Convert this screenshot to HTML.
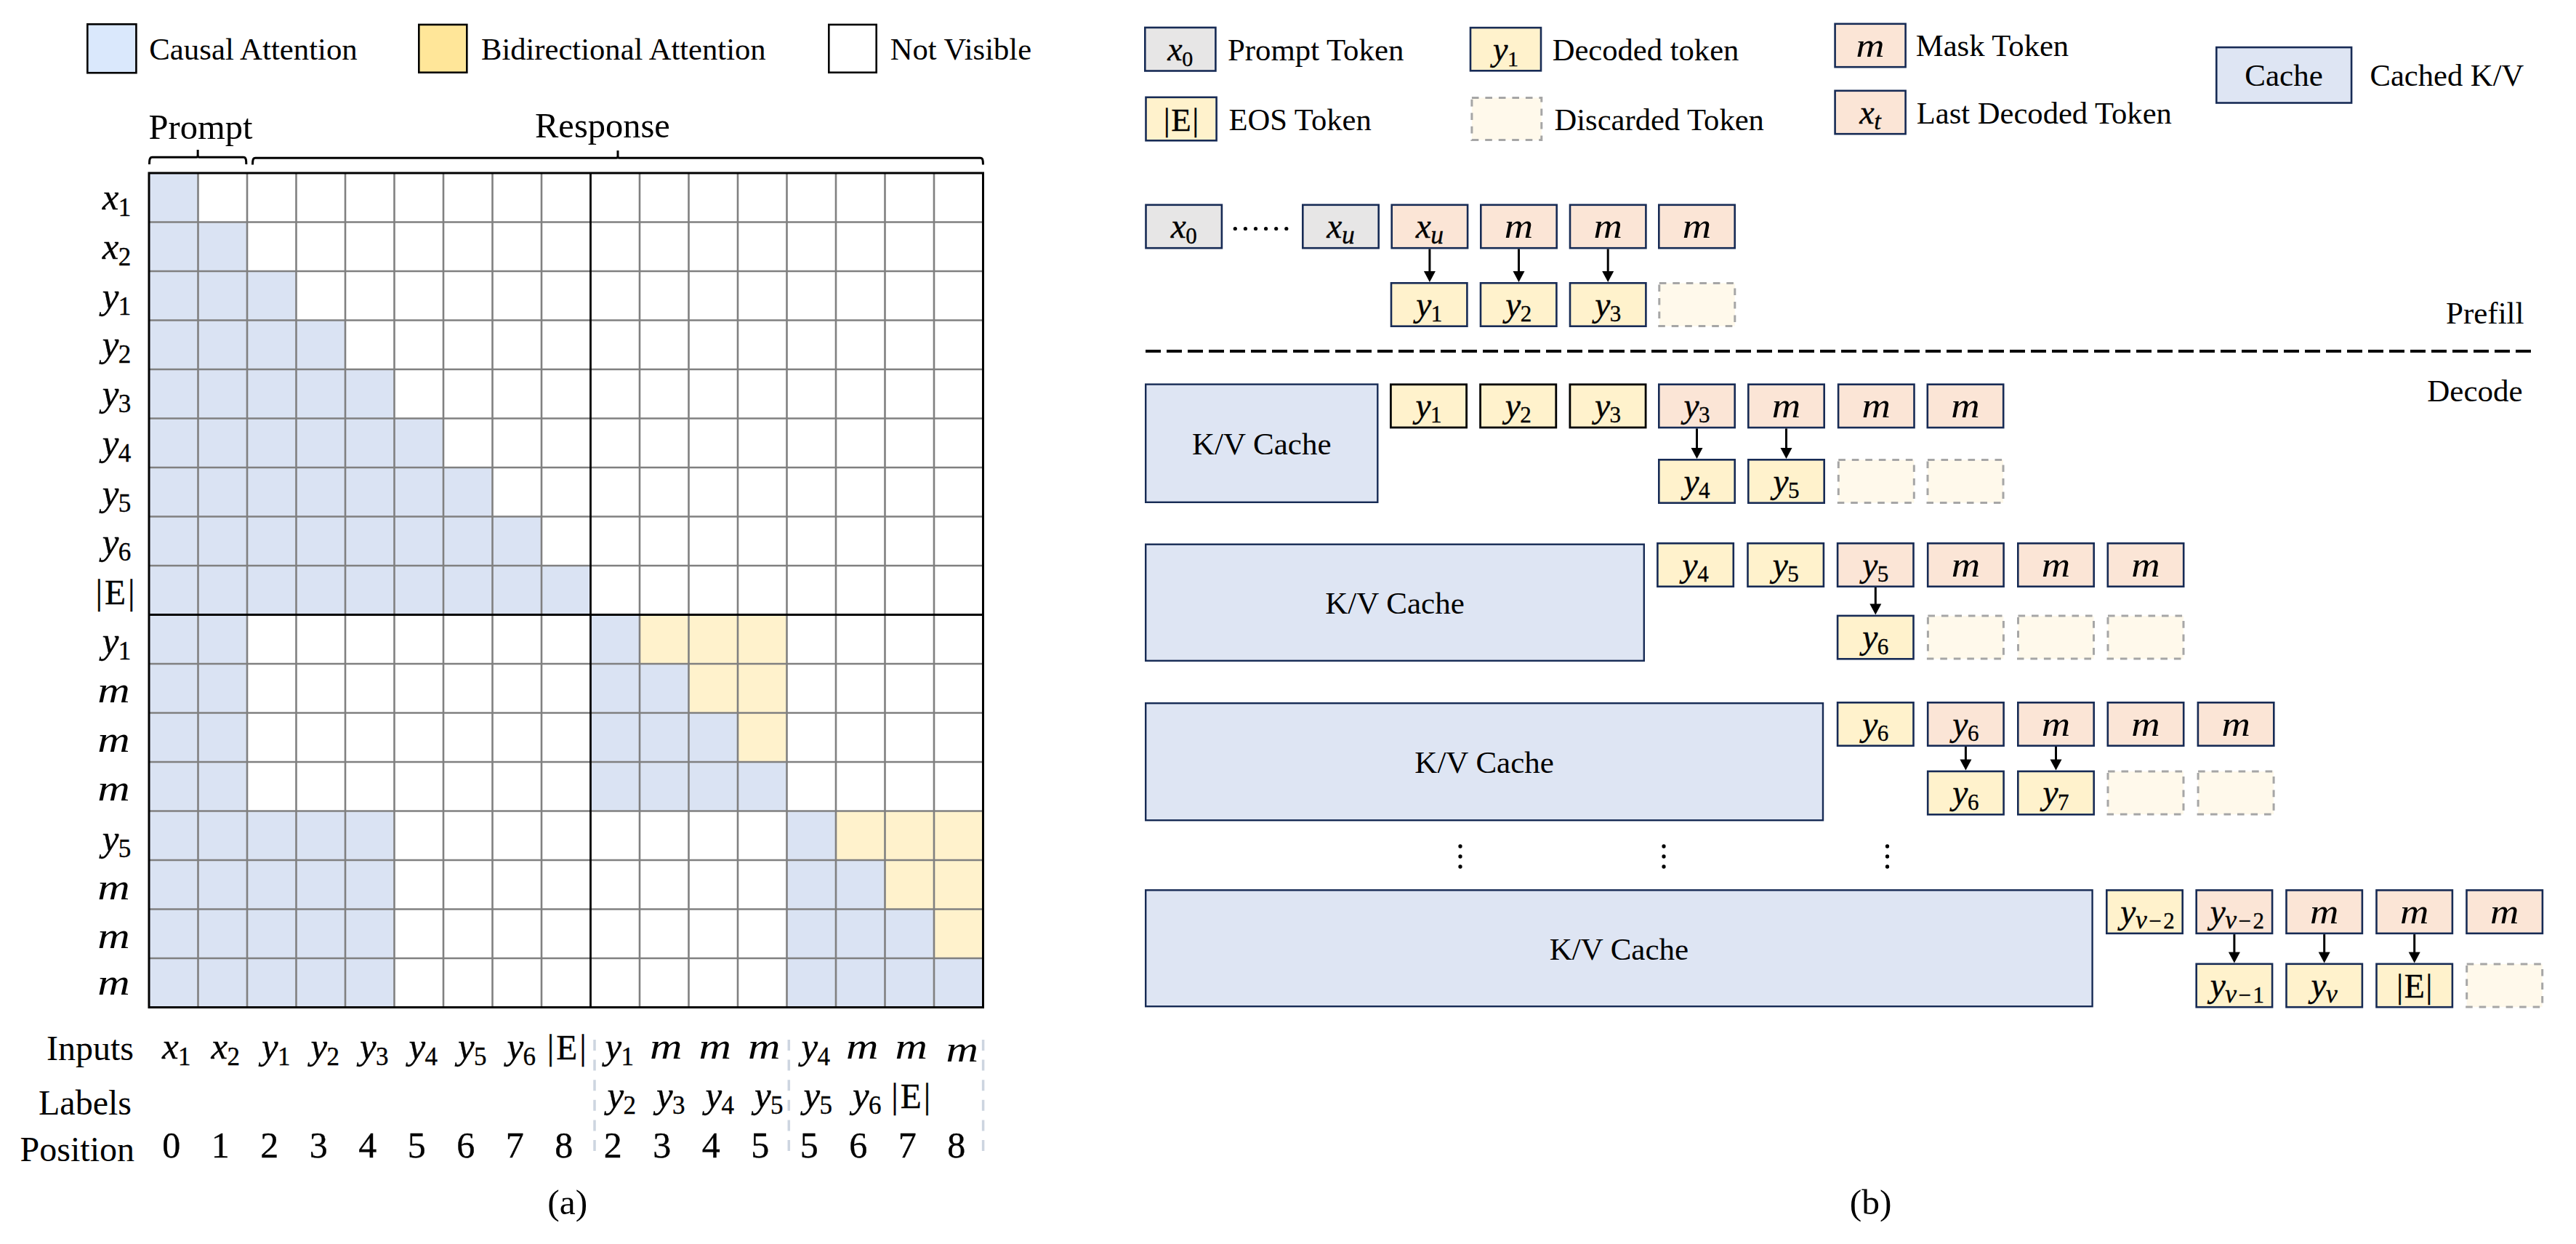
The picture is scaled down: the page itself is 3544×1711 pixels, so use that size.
<!DOCTYPE html>
<html><head><meta charset="utf-8">
<style>
html,body{margin:0;padding:0;background:#fff;}
svg{display:block;}
text{font-family:"Liberation Serif",serif;fill:#000;}
.it{font-style:italic;}
.mt{stroke:#000;stroke-width:0.35px;}
.up{font-style:normal;}
</style></head>
<body>
<svg width="3544" height="1711" viewBox="0 0 3544 1711">
<rect x="0" y="0" width="3544" height="1711" fill="#fff"/>
<rect x="120.3" y="33.3" width="67.1" height="66.9" fill="#dae8fc" stroke="#000" stroke-width="2.6"/>
<text x="205.3" y="82.1" text-anchor="start" class="up" font-size="42.8">Causal Attention</text>
<rect x="576.3" y="33.9" width="66.0" height="65.8" fill="#ffe699" stroke="#000" stroke-width="2.6"/>
<text x="662.0" y="82.1" text-anchor="start" class="up" font-size="42.6">Bidirectional Attention</text>
<rect x="1140.3" y="33.9" width="65.4" height="65.8" fill="#ffffff" stroke="#000" stroke-width="2.6"/>
<text x="1224.8" y="82.1" text-anchor="start" class="up" font-size="42.6">Not Visible</text>
<text x="204.6" y="190.9" text-anchor="start" class="up" font-size="48.5">Prompt</text>
<text x="736.0" y="189.3" text-anchor="start" class="up" font-size="48.5">Response</text>
<path d="M205.5,226 C205.5,219.3 206.0,216.3 209.5,216.3 L270.15,216.3 Q272.15,216.3 272.15,213.3 L272.15,206 M272.15,213.3 Q272.15,216.3 274.15,216.3 L334.8,216.3 C338.3,216.3 338.8,219.3 338.8,226" fill="none" stroke="#000" stroke-width="3"/>
<path d="M347.5,226.5 C347.5,220.2 348.0,217.2 351.5,217.2 L848.0,217.2 Q850.0,217.2 850.0,214.2 L850.0,206.9 M850.0,214.2 Q850.0,217.2 852.0,217.2 L1348.5,217.2 C1352.0,217.2 1352.5,220.2 1352.5,226.5" fill="none" stroke="#000" stroke-width="3"/>
<rect x="205.00" y="238.00" width="67.80" height="67.80" fill="#dae3f3"/>
<rect x="205.00" y="305.50" width="67.80" height="67.80" fill="#dae3f3"/>
<rect x="272.50" y="305.50" width="67.80" height="67.80" fill="#dae3f3"/>
<rect x="205.00" y="373.00" width="67.80" height="67.80" fill="#dae3f3"/>
<rect x="272.50" y="373.00" width="67.80" height="67.80" fill="#dae3f3"/>
<rect x="340.00" y="373.00" width="67.80" height="67.80" fill="#dae3f3"/>
<rect x="205.00" y="440.50" width="67.80" height="67.80" fill="#dae3f3"/>
<rect x="272.50" y="440.50" width="67.80" height="67.80" fill="#dae3f3"/>
<rect x="340.00" y="440.50" width="67.80" height="67.80" fill="#dae3f3"/>
<rect x="407.50" y="440.50" width="67.80" height="67.80" fill="#dae3f3"/>
<rect x="205.00" y="508.00" width="67.80" height="67.80" fill="#dae3f3"/>
<rect x="272.50" y="508.00" width="67.80" height="67.80" fill="#dae3f3"/>
<rect x="340.00" y="508.00" width="67.80" height="67.80" fill="#dae3f3"/>
<rect x="407.50" y="508.00" width="67.80" height="67.80" fill="#dae3f3"/>
<rect x="475.00" y="508.00" width="67.80" height="67.80" fill="#dae3f3"/>
<rect x="205.00" y="575.50" width="67.80" height="67.80" fill="#dae3f3"/>
<rect x="272.50" y="575.50" width="67.80" height="67.80" fill="#dae3f3"/>
<rect x="340.00" y="575.50" width="67.80" height="67.80" fill="#dae3f3"/>
<rect x="407.50" y="575.50" width="67.80" height="67.80" fill="#dae3f3"/>
<rect x="475.00" y="575.50" width="67.80" height="67.80" fill="#dae3f3"/>
<rect x="542.50" y="575.50" width="67.80" height="67.80" fill="#dae3f3"/>
<rect x="205.00" y="643.00" width="67.80" height="67.80" fill="#dae3f3"/>
<rect x="272.50" y="643.00" width="67.80" height="67.80" fill="#dae3f3"/>
<rect x="340.00" y="643.00" width="67.80" height="67.80" fill="#dae3f3"/>
<rect x="407.50" y="643.00" width="67.80" height="67.80" fill="#dae3f3"/>
<rect x="475.00" y="643.00" width="67.80" height="67.80" fill="#dae3f3"/>
<rect x="542.50" y="643.00" width="67.80" height="67.80" fill="#dae3f3"/>
<rect x="610.00" y="643.00" width="67.80" height="67.80" fill="#dae3f3"/>
<rect x="205.00" y="710.50" width="67.80" height="67.80" fill="#dae3f3"/>
<rect x="272.50" y="710.50" width="67.80" height="67.80" fill="#dae3f3"/>
<rect x="340.00" y="710.50" width="67.80" height="67.80" fill="#dae3f3"/>
<rect x="407.50" y="710.50" width="67.80" height="67.80" fill="#dae3f3"/>
<rect x="475.00" y="710.50" width="67.80" height="67.80" fill="#dae3f3"/>
<rect x="542.50" y="710.50" width="67.80" height="67.80" fill="#dae3f3"/>
<rect x="610.00" y="710.50" width="67.80" height="67.80" fill="#dae3f3"/>
<rect x="677.50" y="710.50" width="67.80" height="67.80" fill="#dae3f3"/>
<rect x="205.00" y="778.00" width="67.80" height="67.80" fill="#dae3f3"/>
<rect x="272.50" y="778.00" width="67.80" height="67.80" fill="#dae3f3"/>
<rect x="340.00" y="778.00" width="67.80" height="67.80" fill="#dae3f3"/>
<rect x="407.50" y="778.00" width="67.80" height="67.80" fill="#dae3f3"/>
<rect x="475.00" y="778.00" width="67.80" height="67.80" fill="#dae3f3"/>
<rect x="542.50" y="778.00" width="67.80" height="67.80" fill="#dae3f3"/>
<rect x="610.00" y="778.00" width="67.80" height="67.80" fill="#dae3f3"/>
<rect x="677.50" y="778.00" width="67.80" height="67.80" fill="#dae3f3"/>
<rect x="745.00" y="778.00" width="67.80" height="67.80" fill="#dae3f3"/>
<rect x="205.00" y="845.50" width="67.80" height="67.80" fill="#dae3f3"/>
<rect x="272.50" y="845.50" width="67.80" height="67.80" fill="#dae3f3"/>
<rect x="812.50" y="845.50" width="67.80" height="67.80" fill="#dae3f3"/>
<rect x="205.00" y="913.00" width="67.80" height="67.80" fill="#dae3f3"/>
<rect x="272.50" y="913.00" width="67.80" height="67.80" fill="#dae3f3"/>
<rect x="812.50" y="913.00" width="67.80" height="67.80" fill="#dae3f3"/>
<rect x="880.00" y="913.00" width="67.80" height="67.80" fill="#dae3f3"/>
<rect x="205.00" y="980.50" width="67.80" height="67.80" fill="#dae3f3"/>
<rect x="272.50" y="980.50" width="67.80" height="67.80" fill="#dae3f3"/>
<rect x="812.50" y="980.50" width="67.80" height="67.80" fill="#dae3f3"/>
<rect x="880.00" y="980.50" width="67.80" height="67.80" fill="#dae3f3"/>
<rect x="947.50" y="980.50" width="67.80" height="67.80" fill="#dae3f3"/>
<rect x="205.00" y="1048.00" width="67.80" height="67.80" fill="#dae3f3"/>
<rect x="272.50" y="1048.00" width="67.80" height="67.80" fill="#dae3f3"/>
<rect x="812.50" y="1048.00" width="67.80" height="67.80" fill="#dae3f3"/>
<rect x="880.00" y="1048.00" width="67.80" height="67.80" fill="#dae3f3"/>
<rect x="947.50" y="1048.00" width="67.80" height="67.80" fill="#dae3f3"/>
<rect x="1015.00" y="1048.00" width="67.80" height="67.80" fill="#dae3f3"/>
<rect x="205.00" y="1115.50" width="67.80" height="67.80" fill="#dae3f3"/>
<rect x="272.50" y="1115.50" width="67.80" height="67.80" fill="#dae3f3"/>
<rect x="340.00" y="1115.50" width="67.80" height="67.80" fill="#dae3f3"/>
<rect x="407.50" y="1115.50" width="67.80" height="67.80" fill="#dae3f3"/>
<rect x="475.00" y="1115.50" width="67.80" height="67.80" fill="#dae3f3"/>
<rect x="1082.50" y="1115.50" width="67.80" height="67.80" fill="#dae3f3"/>
<rect x="205.00" y="1183.00" width="67.80" height="67.80" fill="#dae3f3"/>
<rect x="272.50" y="1183.00" width="67.80" height="67.80" fill="#dae3f3"/>
<rect x="340.00" y="1183.00" width="67.80" height="67.80" fill="#dae3f3"/>
<rect x="407.50" y="1183.00" width="67.80" height="67.80" fill="#dae3f3"/>
<rect x="475.00" y="1183.00" width="67.80" height="67.80" fill="#dae3f3"/>
<rect x="1082.50" y="1183.00" width="67.80" height="67.80" fill="#dae3f3"/>
<rect x="1150.00" y="1183.00" width="67.80" height="67.80" fill="#dae3f3"/>
<rect x="205.00" y="1250.50" width="67.80" height="67.80" fill="#dae3f3"/>
<rect x="272.50" y="1250.50" width="67.80" height="67.80" fill="#dae3f3"/>
<rect x="340.00" y="1250.50" width="67.80" height="67.80" fill="#dae3f3"/>
<rect x="407.50" y="1250.50" width="67.80" height="67.80" fill="#dae3f3"/>
<rect x="475.00" y="1250.50" width="67.80" height="67.80" fill="#dae3f3"/>
<rect x="1082.50" y="1250.50" width="67.80" height="67.80" fill="#dae3f3"/>
<rect x="1150.00" y="1250.50" width="67.80" height="67.80" fill="#dae3f3"/>
<rect x="1217.50" y="1250.50" width="67.80" height="67.80" fill="#dae3f3"/>
<rect x="205.00" y="1318.00" width="67.80" height="67.80" fill="#dae3f3"/>
<rect x="272.50" y="1318.00" width="67.80" height="67.80" fill="#dae3f3"/>
<rect x="340.00" y="1318.00" width="67.80" height="67.80" fill="#dae3f3"/>
<rect x="407.50" y="1318.00" width="67.80" height="67.80" fill="#dae3f3"/>
<rect x="475.00" y="1318.00" width="67.80" height="67.80" fill="#dae3f3"/>
<rect x="1082.50" y="1318.00" width="67.80" height="67.80" fill="#dae3f3"/>
<rect x="1150.00" y="1318.00" width="67.80" height="67.80" fill="#dae3f3"/>
<rect x="1217.50" y="1318.00" width="67.80" height="67.80" fill="#dae3f3"/>
<rect x="1285.00" y="1318.00" width="67.80" height="67.80" fill="#dae3f3"/>
<rect x="880.00" y="845.50" width="67.80" height="67.80" fill="#fff2cc"/>
<rect x="947.50" y="845.50" width="67.80" height="67.80" fill="#fff2cc"/>
<rect x="1015.00" y="845.50" width="67.80" height="67.80" fill="#fff2cc"/>
<rect x="947.50" y="913.00" width="67.80" height="67.80" fill="#fff2cc"/>
<rect x="1015.00" y="913.00" width="67.80" height="67.80" fill="#fff2cc"/>
<rect x="1015.00" y="980.50" width="67.80" height="67.80" fill="#fff2cc"/>
<rect x="1150.00" y="1115.50" width="67.80" height="67.80" fill="#fff2cc"/>
<rect x="1217.50" y="1115.50" width="67.80" height="67.80" fill="#fff2cc"/>
<rect x="1285.00" y="1115.50" width="67.80" height="67.80" fill="#fff2cc"/>
<rect x="1217.50" y="1183.00" width="67.80" height="67.80" fill="#fff2cc"/>
<rect x="1285.00" y="1183.00" width="67.80" height="67.80" fill="#fff2cc"/>
<rect x="1285.00" y="1250.50" width="67.80" height="67.80" fill="#fff2cc"/>
<line x1="272.50" y1="238" x2="272.50" y2="1385.5" stroke="#808080" stroke-width="2.6"/>
<line x1="205" y1="305.50" x2="1352.5" y2="305.50" stroke="#808080" stroke-width="2.6"/>
<line x1="340.00" y1="238" x2="340.00" y2="1385.5" stroke="#808080" stroke-width="2.6"/>
<line x1="205" y1="373.00" x2="1352.5" y2="373.00" stroke="#808080" stroke-width="2.6"/>
<line x1="407.50" y1="238" x2="407.50" y2="1385.5" stroke="#808080" stroke-width="2.6"/>
<line x1="205" y1="440.50" x2="1352.5" y2="440.50" stroke="#808080" stroke-width="2.6"/>
<line x1="475.00" y1="238" x2="475.00" y2="1385.5" stroke="#808080" stroke-width="2.6"/>
<line x1="205" y1="508.00" x2="1352.5" y2="508.00" stroke="#808080" stroke-width="2.6"/>
<line x1="542.50" y1="238" x2="542.50" y2="1385.5" stroke="#808080" stroke-width="2.6"/>
<line x1="205" y1="575.50" x2="1352.5" y2="575.50" stroke="#808080" stroke-width="2.6"/>
<line x1="610.00" y1="238" x2="610.00" y2="1385.5" stroke="#808080" stroke-width="2.6"/>
<line x1="205" y1="643.00" x2="1352.5" y2="643.00" stroke="#808080" stroke-width="2.6"/>
<line x1="677.50" y1="238" x2="677.50" y2="1385.5" stroke="#808080" stroke-width="2.6"/>
<line x1="205" y1="710.50" x2="1352.5" y2="710.50" stroke="#808080" stroke-width="2.6"/>
<line x1="745.00" y1="238" x2="745.00" y2="1385.5" stroke="#808080" stroke-width="2.6"/>
<line x1="205" y1="778.00" x2="1352.5" y2="778.00" stroke="#808080" stroke-width="2.6"/>
<line x1="880.00" y1="238" x2="880.00" y2="1385.5" stroke="#808080" stroke-width="2.6"/>
<line x1="205" y1="913.00" x2="1352.5" y2="913.00" stroke="#808080" stroke-width="2.6"/>
<line x1="947.50" y1="238" x2="947.50" y2="1385.5" stroke="#808080" stroke-width="2.6"/>
<line x1="205" y1="980.50" x2="1352.5" y2="980.50" stroke="#808080" stroke-width="2.6"/>
<line x1="1015.00" y1="238" x2="1015.00" y2="1385.5" stroke="#808080" stroke-width="2.6"/>
<line x1="205" y1="1048.00" x2="1352.5" y2="1048.00" stroke="#808080" stroke-width="2.6"/>
<line x1="1082.50" y1="238" x2="1082.50" y2="1385.5" stroke="#808080" stroke-width="2.6"/>
<line x1="205" y1="1115.50" x2="1352.5" y2="1115.50" stroke="#808080" stroke-width="2.6"/>
<line x1="1150.00" y1="238" x2="1150.00" y2="1385.5" stroke="#808080" stroke-width="2.6"/>
<line x1="205" y1="1183.00" x2="1352.5" y2="1183.00" stroke="#808080" stroke-width="2.6"/>
<line x1="1217.50" y1="238" x2="1217.50" y2="1385.5" stroke="#808080" stroke-width="2.6"/>
<line x1="205" y1="1250.50" x2="1352.5" y2="1250.50" stroke="#808080" stroke-width="2.6"/>
<line x1="1285.00" y1="238" x2="1285.00" y2="1385.5" stroke="#808080" stroke-width="2.6"/>
<line x1="205" y1="1318.00" x2="1352.5" y2="1318.00" stroke="#808080" stroke-width="2.6"/>
<line x1="812.5" y1="238" x2="812.5" y2="1385.5" stroke="#000" stroke-width="2.8"/>
<line x1="205" y1="845.5" x2="1352.5" y2="845.5" stroke="#000" stroke-width="2.8"/>
<rect x="205" y="238" width="1147.5" height="1147.5" fill="none" stroke="#000" stroke-width="3"/>
<text x="160.5" y="287.9" text-anchor="middle" font-size="51" class="mt"><tspan class="it">x</tspan><tspan dx="-0.5" dy="9" font-size="35"><tspan class="up">1</tspan></tspan></text>
<text x="160.5" y="355.8" text-anchor="middle" font-size="51" class="mt"><tspan class="it">x</tspan><tspan dx="-0.5" dy="9" font-size="35"><tspan class="up">2</tspan></tspan></text>
<text x="160.5" y="423.6" text-anchor="middle" font-size="51" class="mt"><tspan class="it">y</tspan><tspan dx="-0.5" dy="9" font-size="35"><tspan class="up">1</tspan></tspan></text>
<text x="160.5" y="490.4" text-anchor="middle" font-size="51" class="mt"><tspan class="it">y</tspan><tspan dx="-0.5" dy="9" font-size="35"><tspan class="up">2</tspan></tspan></text>
<text x="160.5" y="558.0" text-anchor="middle" font-size="51" class="mt"><tspan class="it">y</tspan><tspan dx="-0.5" dy="9" font-size="35"><tspan class="up">3</tspan></tspan></text>
<text x="160.5" y="625.6" text-anchor="middle" font-size="51" class="mt"><tspan class="it">y</tspan><tspan dx="-0.5" dy="9" font-size="35"><tspan class="up">4</tspan></tspan></text>
<text x="160.5" y="694.6" text-anchor="middle" font-size="51" class="mt"><tspan class="it">y</tspan><tspan dx="-0.5" dy="9" font-size="35"><tspan class="up">5</tspan></tspan></text>
<text x="160.5" y="762.4" text-anchor="middle" font-size="51" class="mt"><tspan class="it">y</tspan><tspan dx="-0.5" dy="9" font-size="35"><tspan class="up">6</tspan></tspan></text>
<text x="158.5" y="830.9" text-anchor="middle" class="up mt" font-size="47.5">|<tspan dx="3">E</tspan><tspan dx="3">|</tspan></text>
<text x="160.5" y="897.6" text-anchor="middle" font-size="51" class="mt"><tspan class="it">y</tspan><tspan dx="-0.5" dy="9" font-size="35"><tspan class="up">1</tspan></tspan></text>
<text x="156.5" y="965.8" text-anchor="middle" font-size="51" class="it" textLength="44.5" lengthAdjust="spacingAndGlyphs">m</text>
<text x="156.5" y="1033.7" text-anchor="middle" font-size="51" class="it" textLength="44.5" lengthAdjust="spacingAndGlyphs">m</text>
<text x="156.5" y="1101.2" text-anchor="middle" font-size="51" class="it" textLength="44.5" lengthAdjust="spacingAndGlyphs">m</text>
<text x="160.5" y="1169.8" text-anchor="middle" font-size="51" class="mt"><tspan class="it">y</tspan><tspan dx="-0.5" dy="9" font-size="35"><tspan class="up">5</tspan></tspan></text>
<text x="156.5" y="1237.4" text-anchor="middle" font-size="51" class="it" textLength="44.5" lengthAdjust="spacingAndGlyphs">m</text>
<text x="156.5" y="1304.0" text-anchor="middle" font-size="51" class="it" textLength="44.5" lengthAdjust="spacingAndGlyphs">m</text>
<text x="156.5" y="1368.3" text-anchor="middle" font-size="51" class="it" textLength="44.5" lengthAdjust="spacingAndGlyphs">m</text>
<text x="184.0" y="1457.9" text-anchor="end" class="up" font-size="48">Inputs</text>
<text x="181.0" y="1533.0" text-anchor="end" class="up" font-size="48">Labels</text>
<text x="185.0" y="1596.8" text-anchor="end" class="up" font-size="48">Position</text>
<text x="242.8" y="1456.4" text-anchor="middle" font-size="51" class="mt"><tspan class="it">x</tspan><tspan dx="-0.5" dy="9" font-size="35"><tspan class="up">1</tspan></tspan></text>
<text x="235.8" y="1592.0" text-anchor="middle" class="up mt" font-size="50">0</text>
<text x="310.2" y="1456.4" text-anchor="middle" font-size="51" class="mt"><tspan class="it">x</tspan><tspan dx="-0.5" dy="9" font-size="35"><tspan class="up">2</tspan></tspan></text>
<text x="303.2" y="1592.0" text-anchor="middle" class="up mt" font-size="50">1</text>
<text x="379.8" y="1456.4" text-anchor="middle" font-size="51" class="mt"><tspan class="it">y</tspan><tspan dx="-0.5" dy="9" font-size="35"><tspan class="up">1</tspan></tspan></text>
<text x="370.8" y="1592.0" text-anchor="middle" class="up mt" font-size="50">2</text>
<text x="447.2" y="1456.4" text-anchor="middle" font-size="51" class="mt"><tspan class="it">y</tspan><tspan dx="-0.5" dy="9" font-size="35"><tspan class="up">2</tspan></tspan></text>
<text x="438.2" y="1592.0" text-anchor="middle" class="up mt" font-size="50">3</text>
<text x="514.8" y="1456.4" text-anchor="middle" font-size="51" class="mt"><tspan class="it">y</tspan><tspan dx="-0.5" dy="9" font-size="35"><tspan class="up">3</tspan></tspan></text>
<text x="505.8" y="1592.0" text-anchor="middle" class="up mt" font-size="50">4</text>
<text x="582.2" y="1456.4" text-anchor="middle" font-size="51" class="mt"><tspan class="it">y</tspan><tspan dx="-0.5" dy="9" font-size="35"><tspan class="up">4</tspan></tspan></text>
<text x="573.2" y="1592.0" text-anchor="middle" class="up mt" font-size="50">5</text>
<text x="649.8" y="1456.4" text-anchor="middle" font-size="51" class="mt"><tspan class="it">y</tspan><tspan dx="-0.5" dy="9" font-size="35"><tspan class="up">5</tspan></tspan></text>
<text x="640.8" y="1592.0" text-anchor="middle" class="up mt" font-size="50">6</text>
<text x="717.2" y="1456.4" text-anchor="middle" font-size="51" class="mt"><tspan class="it">y</tspan><tspan dx="-0.5" dy="9" font-size="35"><tspan class="up">6</tspan></tspan></text>
<text x="708.2" y="1592.0" text-anchor="middle" class="up mt" font-size="50">7</text>
<text x="779.8" y="1457.4" text-anchor="middle" class="up mt" font-size="47.5">|<tspan dx="3">E</tspan><tspan dx="3">|</tspan></text>
<text x="775.8" y="1592.0" text-anchor="middle" class="up mt" font-size="50">8</text>
<text x="852.2" y="1456.4" text-anchor="middle" font-size="51" class="mt"><tspan class="it">y</tspan><tspan dx="-0.5" dy="9" font-size="35"><tspan class="up">1</tspan></tspan></text>
<text x="855.2" y="1522.7" text-anchor="middle" font-size="51" class="mt"><tspan class="it">y</tspan><tspan dx="-0.5" dy="9" font-size="35"><tspan class="up">2</tspan></tspan></text>
<text x="843.2" y="1592.0" text-anchor="middle" class="up mt" font-size="50">2</text>
<text x="916.2" y="1456.4" text-anchor="middle" font-size="51" class="it" textLength="44.5" lengthAdjust="spacingAndGlyphs">m</text>
<text x="922.8" y="1522.7" text-anchor="middle" font-size="51" class="mt"><tspan class="it">y</tspan><tspan dx="-0.5" dy="9" font-size="35"><tspan class="up">3</tspan></tspan></text>
<text x="910.8" y="1592.0" text-anchor="middle" class="up mt" font-size="50">3</text>
<text x="983.8" y="1456.4" text-anchor="middle" font-size="51" class="it" textLength="44.5" lengthAdjust="spacingAndGlyphs">m</text>
<text x="990.2" y="1522.7" text-anchor="middle" font-size="51" class="mt"><tspan class="it">y</tspan><tspan dx="-0.5" dy="9" font-size="35"><tspan class="up">4</tspan></tspan></text>
<text x="978.2" y="1592.0" text-anchor="middle" class="up mt" font-size="50">4</text>
<text x="1051.2" y="1456.4" text-anchor="middle" font-size="51" class="it" textLength="44.5" lengthAdjust="spacingAndGlyphs">m</text>
<text x="1057.8" y="1522.7" text-anchor="middle" font-size="51" class="mt"><tspan class="it">y</tspan><tspan dx="-0.5" dy="9" font-size="35"><tspan class="up">5</tspan></tspan></text>
<text x="1045.8" y="1592.0" text-anchor="middle" class="up mt" font-size="50">5</text>
<text x="1122.2" y="1456.4" text-anchor="middle" font-size="51" class="mt"><tspan class="it">y</tspan><tspan dx="-0.5" dy="9" font-size="35"><tspan class="up">4</tspan></tspan></text>
<text x="1125.2" y="1522.7" text-anchor="middle" font-size="51" class="mt"><tspan class="it">y</tspan><tspan dx="-0.5" dy="9" font-size="35"><tspan class="up">5</tspan></tspan></text>
<text x="1113.2" y="1592.0" text-anchor="middle" class="up mt" font-size="50">5</text>
<text x="1186.2" y="1456.4" text-anchor="middle" font-size="51" class="it" textLength="44.5" lengthAdjust="spacingAndGlyphs">m</text>
<text x="1192.8" y="1522.7" text-anchor="middle" font-size="51" class="mt"><tspan class="it">y</tspan><tspan dx="-0.5" dy="9" font-size="35"><tspan class="up">6</tspan></tspan></text>
<text x="1180.8" y="1592.0" text-anchor="middle" class="up mt" font-size="50">6</text>
<text x="1253.8" y="1456.4" text-anchor="middle" font-size="51" class="it" textLength="44.5" lengthAdjust="spacingAndGlyphs">m</text>
<text x="1253.2" y="1523.7" text-anchor="middle" class="up mt" font-size="47.5">|<tspan dx="3">E</tspan><tspan dx="3">|</tspan></text>
<text x="1248.2" y="1592.0" text-anchor="middle" class="up mt" font-size="50">7</text>
<text x="1323.8" y="1460.0" text-anchor="middle" font-size="51" class="it" textLength="44.5" lengthAdjust="spacingAndGlyphs">m</text>
<text x="1315.8" y="1592.0" text-anchor="middle" class="up mt" font-size="50">8</text>
<line x1="818" y1="1430" x2="818" y2="1586" stroke="#cdd5e0" stroke-width="3.5" stroke-dasharray="15,12.6"/>
<line x1="1085.3" y1="1430" x2="1085.3" y2="1586" stroke="#cdd5e0" stroke-width="3.5" stroke-dasharray="15,12.6"/>
<line x1="1352.6" y1="1430" x2="1352.6" y2="1586" stroke="#cdd5e0" stroke-width="3.5" stroke-dasharray="15,12.6"/>
<text x="780.8" y="1670.0" text-anchor="middle" class="up" font-size="49.5">(a)</text>
<rect x="1575.3" y="37.9" width="97.1" height="59.6" fill="#e7e6e6" stroke="#172b55" stroke-width="2.6"/>
<text x="1623.8" y="82.7" text-anchor="middle" font-size="46" class="mt"><tspan class="it">x</tspan><tspan dx="-0.5" dy="8" font-size="30"><tspan class="up">0</tspan></tspan></text>
<text x="1689.0" y="83.2" text-anchor="start" class="up" font-size="42.8">Prompt Token</text>
<rect x="2023.0" y="38.1" width="97.0" height="59.2" fill="#fff2cc" stroke="#172b55" stroke-width="2.6"/>
<text x="2071.5" y="82.7" text-anchor="middle" font-size="46" class="mt"><tspan class="it">y</tspan><tspan dx="-0.5" dy="8" font-size="30"><tspan class="up">1</tspan></tspan></text>
<text x="2135.7" y="83.2" text-anchor="start" class="up" font-size="42.6">Decoded token</text>
<rect x="1576.5" y="133.8" width="97.1" height="59.5" fill="#fff2cc" stroke="#172b55" stroke-width="2.6"/>
<text x="1625.0" y="179.6" text-anchor="middle" class="up mt" font-size="45">|<tspan dx="1.5">E</tspan><tspan dx="1.5">|</tspan></text>
<text x="1690.5" y="178.7" text-anchor="start" class="up" font-size="42.6">EOS Token</text>
<rect x="2024.9" y="134.4" width="95.9" height="58.1" fill="#fff9eb" stroke="#a6a6a6" stroke-width="3" stroke-dasharray="9.6,8.9"/>
<text x="2138.5" y="178.7" text-anchor="start" class="up" font-size="42.6">Discarded Token</text>
<rect x="2524.6" y="32.8" width="97.0" height="59.4" fill="#fbe5d6" stroke="#172b55" stroke-width="2.6"/>
<text x="2573.1" y="77.5" text-anchor="middle" font-size="46" class="it" textLength="39" lengthAdjust="spacingAndGlyphs">m</text>
<text x="2635.8" y="77.3" text-anchor="start" class="up" font-size="42.6">Mask Token</text>
<rect x="2524.6" y="124.8" width="97.0" height="59.4" fill="#fbe5d6" stroke="#172b55" stroke-width="2.6"/>
<text x="2573.1" y="169.5" text-anchor="middle" font-size="46" class="mt"><tspan class="it">x</tspan><tspan dx="-0.5" dy="8" font-size="30"><tspan class="it" font-size="34.5">t</tspan></tspan></text>
<text x="2636.8" y="170.4" text-anchor="start" class="up" font-size="42.6">Last Decoded Token</text>
<rect x="3049.3" y="65.1" width="185.8" height="76.4" fill="#dee5f3" stroke="#172b55" stroke-width="2.6"/>
<text x="3142.0" y="118.0" text-anchor="middle" class="up" font-size="43">Cache</text>
<text x="3260.5" y="118.0" text-anchor="start" class="up" font-size="42.6">Cached K/V</text>
<rect x="1576.5" y="281.8" width="104.4" height="59.4" fill="#e7e6e6" stroke="#172b55" stroke-width="2.6"/>
<text x="1628.7" y="327.0" text-anchor="middle" font-size="47.5" class="mt"><tspan class="it">x</tspan><tspan dx="-0.5" dy="7.5" font-size="31"><tspan class="up">0</tspan></tspan></text>
<circle cx="1699.3" cy="314.5" r="2.6" fill="#000"/>
<circle cx="1713.4" cy="314.5" r="2.6" fill="#000"/>
<circle cx="1727.5" cy="314.5" r="2.6" fill="#000"/>
<circle cx="1741.6" cy="314.5" r="2.6" fill="#000"/>
<circle cx="1755.7" cy="314.5" r="2.6" fill="#000"/>
<circle cx="1769.8" cy="314.5" r="2.6" fill="#000"/>
<rect x="1792.3" y="281.8" width="104.4" height="59.4" fill="#e7e6e6" stroke="#172b55" stroke-width="2.6"/>
<text x="1844.5" y="327.0" text-anchor="middle" font-size="47.5" class="mt"><tspan class="it">x</tspan><tspan dx="-0.5" dy="7.5" font-size="31"><tspan class="it" font-size="35.6">u</tspan></tspan></text>
<rect x="1914.7" y="281.8" width="104.4" height="59.4" fill="#fbe5d6" stroke="#172b55" stroke-width="2.6"/>
<text x="1966.9" y="327.0" text-anchor="middle" font-size="47.5" class="mt"><tspan class="it">x</tspan><tspan dx="-0.5" dy="7.5" font-size="31"><tspan class="it" font-size="35.6">u</tspan></tspan></text>
<rect x="2037.3" y="281.8" width="104.4" height="59.4" fill="#fbe5d6" stroke="#172b55" stroke-width="2.6"/>
<text x="2089.5" y="327.0" text-anchor="middle" font-size="47.5" class="it" textLength="39.4" lengthAdjust="spacingAndGlyphs">m</text>
<rect x="2160.0" y="281.8" width="104.4" height="59.4" fill="#fbe5d6" stroke="#172b55" stroke-width="2.6"/>
<text x="2212.2" y="327.0" text-anchor="middle" font-size="47.5" class="it" textLength="39.4" lengthAdjust="spacingAndGlyphs">m</text>
<rect x="2282.3" y="281.8" width="104.4" height="59.4" fill="#fbe5d6" stroke="#172b55" stroke-width="2.6"/>
<text x="2334.5" y="327.0" text-anchor="middle" font-size="47.5" class="it" textLength="39.4" lengthAdjust="spacingAndGlyphs">m</text>
<rect x="1914.0" y="389.3" width="104.4" height="59.4" fill="#fff2cc" stroke="#172b55" stroke-width="2.6"/>
<text x="1966.2" y="434.5" text-anchor="middle" font-size="47.5" class="mt"><tspan class="it">y</tspan><tspan dx="-0.5" dy="7.5" font-size="31"><tspan class="up">1</tspan></tspan></text>
<rect x="2037.0" y="389.3" width="104.4" height="59.4" fill="#fff2cc" stroke="#172b55" stroke-width="2.6"/>
<text x="2089.2" y="434.5" text-anchor="middle" font-size="47.5" class="mt"><tspan class="it">y</tspan><tspan dx="-0.5" dy="7.5" font-size="31"><tspan class="up">2</tspan></tspan></text>
<rect x="2160.0" y="389.3" width="104.4" height="59.4" fill="#fff2cc" stroke="#172b55" stroke-width="2.6"/>
<text x="2212.2" y="434.5" text-anchor="middle" font-size="47.5" class="mt"><tspan class="it">y</tspan><tspan dx="-0.5" dy="7.5" font-size="31"><tspan class="up">3</tspan></tspan></text>
<rect x="2282.8" y="389.5" width="104.0" height="59.0" fill="#fff9eb" stroke="#a6a6a6" stroke-width="3" stroke-dasharray="9.6,8.9"/>
<line x1="1966.9" y1="342.5" x2="1966.9" y2="375" stroke="#000" stroke-width="3"/>
<path d="M1958.9,373 L1974.9,373 L1966.9,388 Z" fill="#000"/>
<line x1="2089.5" y1="342.5" x2="2089.5" y2="375" stroke="#000" stroke-width="3"/>
<path d="M2081.5,373 L2097.5,373 L2089.5,388 Z" fill="#000"/>
<line x1="2212.2" y1="342.5" x2="2212.2" y2="375" stroke="#000" stroke-width="3"/>
<path d="M2204.2,373 L2220.2,373 L2212.2,388 Z" fill="#000"/>
<text x="3365.0" y="445.1" text-anchor="start" class="up" font-size="43">Prefill</text>
<line x1="1576" y1="483" x2="3490" y2="483" stroke="#000" stroke-width="4" stroke-dasharray="21,8"/>
<text x="3339.3" y="552.0" text-anchor="start" class="up" font-size="43">Decode</text>
<rect x="1576.2" y="528.6" width="319.1" height="162.2" fill="#dee5f3" stroke="#172b55" stroke-width="2.4"/>
<text x="1735.8" y="625.0" text-anchor="middle" class="up" font-size="43">K/V Cache</text>
<rect x="1913.4" y="528.8" width="104.2" height="59.2" fill="#fff2cc" stroke="#000" stroke-width="2.8"/>
<text x="1965.5" y="573.9" text-anchor="middle" font-size="47.5" class="mt"><tspan class="it">y</tspan><tspan dx="-0.5" dy="7.5" font-size="31"><tspan class="up">1</tspan></tspan></text>
<rect x="2036.6" y="528.8" width="104.2" height="59.2" fill="#fff2cc" stroke="#000" stroke-width="2.8"/>
<text x="2088.7" y="573.9" text-anchor="middle" font-size="47.5" class="mt"><tspan class="it">y</tspan><tspan dx="-0.5" dy="7.5" font-size="31"><tspan class="up">2</tspan></tspan></text>
<rect x="2159.9" y="528.8" width="104.2" height="59.2" fill="#fff2cc" stroke="#000" stroke-width="2.8"/>
<text x="2212.0" y="573.9" text-anchor="middle" font-size="47.5" class="mt"><tspan class="it">y</tspan><tspan dx="-0.5" dy="7.5" font-size="31"><tspan class="up">3</tspan></tspan></text>
<rect x="2282.3" y="528.7" width="104.4" height="59.4" fill="#fbe5d6" stroke="#172b55" stroke-width="2.6"/>
<text x="2334.5" y="573.9" text-anchor="middle" font-size="47.5" class="mt"><tspan class="it">y</tspan><tspan dx="-0.5" dy="7.5" font-size="31"><tspan class="up">3</tspan></tspan></text>
<rect x="2405.3" y="528.7" width="104.4" height="59.4" fill="#fbe5d6" stroke="#172b55" stroke-width="2.6"/>
<text x="2457.5" y="573.9" text-anchor="middle" font-size="47.5" class="it" textLength="39.4" lengthAdjust="spacingAndGlyphs">m</text>
<rect x="2529.1" y="528.7" width="104.4" height="59.4" fill="#fbe5d6" stroke="#172b55" stroke-width="2.6"/>
<text x="2581.3" y="573.9" text-anchor="middle" font-size="47.5" class="it" textLength="39.4" lengthAdjust="spacingAndGlyphs">m</text>
<rect x="2651.8" y="528.7" width="104.4" height="59.4" fill="#fbe5d6" stroke="#172b55" stroke-width="2.6"/>
<text x="2704.0" y="573.9" text-anchor="middle" font-size="47.5" class="it" textLength="39.4" lengthAdjust="spacingAndGlyphs">m</text>
<rect x="2282.3" y="632.3" width="104.4" height="59.4" fill="#fff2cc" stroke="#172b55" stroke-width="2.6"/>
<text x="2334.5" y="677.5" text-anchor="middle" font-size="47.5" class="mt"><tspan class="it">y</tspan><tspan dx="-0.5" dy="7.5" font-size="31"><tspan class="up">4</tspan></tspan></text>
<rect x="2405.3" y="632.3" width="104.4" height="59.4" fill="#fff2cc" stroke="#172b55" stroke-width="2.6"/>
<text x="2457.5" y="677.5" text-anchor="middle" font-size="47.5" class="mt"><tspan class="it">y</tspan><tspan dx="-0.5" dy="7.5" font-size="31"><tspan class="up">5</tspan></tspan></text>
<rect x="2529.3" y="632.5" width="104.0" height="59.0" fill="#fff9eb" stroke="#a6a6a6" stroke-width="3" stroke-dasharray="9.6,8.9"/>
<rect x="2652.0" y="632.5" width="104.0" height="59.0" fill="#fff9eb" stroke="#a6a6a6" stroke-width="3" stroke-dasharray="9.6,8.9"/>
<line x1="2334.5" y1="589.4" x2="2334.5" y2="618" stroke="#000" stroke-width="3"/>
<path d="M2326.5,616 L2342.5,616 L2334.5,631 Z" fill="#000"/>
<line x1="2457.5" y1="589.4" x2="2457.5" y2="618" stroke="#000" stroke-width="3"/>
<path d="M2449.5,616 L2465.5,616 L2457.5,631 Z" fill="#000"/>
<rect x="1576.2" y="748.7" width="685.6" height="160.1" fill="#dee5f3" stroke="#172b55" stroke-width="2.4"/>
<text x="1919.0" y="844.0" text-anchor="middle" class="up" font-size="43">K/V Cache</text>
<rect x="2280.4" y="747.3" width="104.4" height="59.4" fill="#fff2cc" stroke="#172b55" stroke-width="2.6"/>
<text x="2332.6" y="792.5" text-anchor="middle" font-size="47.5" class="mt"><tspan class="it">y</tspan><tspan dx="-0.5" dy="7.5" font-size="31"><tspan class="up">4</tspan></tspan></text>
<rect x="2404.5" y="747.3" width="104.4" height="59.4" fill="#fff2cc" stroke="#172b55" stroke-width="2.6"/>
<text x="2456.7" y="792.5" text-anchor="middle" font-size="47.5" class="mt"><tspan class="it">y</tspan><tspan dx="-0.5" dy="7.5" font-size="31"><tspan class="up">5</tspan></tspan></text>
<rect x="2528.1" y="747.3" width="104.4" height="59.4" fill="#fbe5d6" stroke="#172b55" stroke-width="2.6"/>
<text x="2580.3" y="792.5" text-anchor="middle" font-size="47.5" class="mt"><tspan class="it">y</tspan><tspan dx="-0.5" dy="7.5" font-size="31"><tspan class="up">5</tspan></tspan></text>
<rect x="2652.2" y="747.3" width="104.4" height="59.4" fill="#fbe5d6" stroke="#172b55" stroke-width="2.6"/>
<text x="2704.4" y="792.5" text-anchor="middle" font-size="47.5" class="it" textLength="39.4" lengthAdjust="spacingAndGlyphs">m</text>
<rect x="2776.3" y="747.3" width="104.4" height="59.4" fill="#fbe5d6" stroke="#172b55" stroke-width="2.6"/>
<text x="2828.5" y="792.5" text-anchor="middle" font-size="47.5" class="it" textLength="39.4" lengthAdjust="spacingAndGlyphs">m</text>
<rect x="2899.8" y="747.3" width="104.4" height="59.4" fill="#fbe5d6" stroke="#172b55" stroke-width="2.6"/>
<text x="2952.0" y="792.5" text-anchor="middle" font-size="47.5" class="it" textLength="39.4" lengthAdjust="spacingAndGlyphs">m</text>
<rect x="2528.1" y="846.9" width="104.4" height="59.4" fill="#fff2cc" stroke="#172b55" stroke-width="2.6"/>
<text x="2580.3" y="892.1" text-anchor="middle" font-size="47.5" class="mt"><tspan class="it">y</tspan><tspan dx="-0.5" dy="7.5" font-size="31"><tspan class="up">6</tspan></tspan></text>
<rect x="2652.4" y="847.1" width="104.0" height="59.0" fill="#fff9eb" stroke="#a6a6a6" stroke-width="3" stroke-dasharray="9.6,8.9"/>
<rect x="2776.5" y="847.1" width="104.0" height="59.0" fill="#fff9eb" stroke="#a6a6a6" stroke-width="3" stroke-dasharray="9.6,8.9"/>
<rect x="2900.0" y="847.1" width="104.0" height="59.0" fill="#fff9eb" stroke="#a6a6a6" stroke-width="3" stroke-dasharray="9.6,8.9"/>
<line x1="2580.3" y1="808" x2="2580.3" y2="832.6" stroke="#000" stroke-width="3"/>
<path d="M2572.3,830.6 L2588.3,830.6 L2580.3,845.6 Z" fill="#000"/>
<rect x="1576.2" y="967.2" width="931.8" height="161.0" fill="#dee5f3" stroke="#172b55" stroke-width="2.4"/>
<text x="2042.1" y="1063.0" text-anchor="middle" class="up" font-size="43">K/V Cache</text>
<rect x="2528.1" y="966.3" width="104.4" height="59.4" fill="#fff2cc" stroke="#172b55" stroke-width="2.6"/>
<text x="2580.3" y="1011.5" text-anchor="middle" font-size="47.5" class="mt"><tspan class="it">y</tspan><tspan dx="-0.5" dy="7.5" font-size="31"><tspan class="up">6</tspan></tspan></text>
<rect x="2652.2" y="966.3" width="104.4" height="59.4" fill="#fbe5d6" stroke="#172b55" stroke-width="2.6"/>
<text x="2704.4" y="1011.5" text-anchor="middle" font-size="47.5" class="mt"><tspan class="it">y</tspan><tspan dx="-0.5" dy="7.5" font-size="31"><tspan class="up">6</tspan></tspan></text>
<rect x="2776.3" y="966.3" width="104.4" height="59.4" fill="#fbe5d6" stroke="#172b55" stroke-width="2.6"/>
<text x="2828.5" y="1011.5" text-anchor="middle" font-size="47.5" class="it" textLength="39.4" lengthAdjust="spacingAndGlyphs">m</text>
<rect x="2899.8" y="966.3" width="104.4" height="59.4" fill="#fbe5d6" stroke="#172b55" stroke-width="2.6"/>
<text x="2952.0" y="1011.5" text-anchor="middle" font-size="47.5" class="it" textLength="39.4" lengthAdjust="spacingAndGlyphs">m</text>
<rect x="3023.9" y="966.3" width="104.4" height="59.4" fill="#fbe5d6" stroke="#172b55" stroke-width="2.6"/>
<text x="3076.1" y="1011.5" text-anchor="middle" font-size="47.5" class="it" textLength="39.4" lengthAdjust="spacingAndGlyphs">m</text>
<rect x="2652.2" y="1060.9" width="104.4" height="59.4" fill="#fff2cc" stroke="#172b55" stroke-width="2.6"/>
<text x="2704.4" y="1106.1" text-anchor="middle" font-size="47.5" class="mt"><tspan class="it">y</tspan><tspan dx="-0.5" dy="7.5" font-size="31"><tspan class="up">6</tspan></tspan></text>
<rect x="2776.3" y="1060.9" width="104.4" height="59.4" fill="#fff2cc" stroke="#172b55" stroke-width="2.6"/>
<text x="2828.5" y="1106.1" text-anchor="middle" font-size="47.5" class="mt"><tspan class="it">y</tspan><tspan dx="-0.5" dy="7.5" font-size="31"><tspan class="up">7</tspan></tspan></text>
<rect x="2900.0" y="1061.1" width="104.0" height="59.0" fill="#fff9eb" stroke="#a6a6a6" stroke-width="3" stroke-dasharray="9.6,8.9"/>
<rect x="3024.1" y="1061.1" width="104.0" height="59.0" fill="#fff9eb" stroke="#a6a6a6" stroke-width="3" stroke-dasharray="9.6,8.9"/>
<line x1="2704.4" y1="1027" x2="2704.4" y2="1046.6" stroke="#000" stroke-width="3"/>
<path d="M2696.4,1044.6 L2712.4,1044.6 L2704.4,1059.6 Z" fill="#000"/>
<line x1="2828.5" y1="1027" x2="2828.5" y2="1046.6" stroke="#000" stroke-width="3"/>
<path d="M2820.5,1044.6 L2836.5,1044.6 L2828.5,1059.6 Z" fill="#000"/>
<circle cx="2009" cy="1164" r="2.65" fill="#000"/>
<circle cx="2009" cy="1178" r="2.65" fill="#000"/>
<circle cx="2009" cy="1192" r="2.65" fill="#000"/>
<circle cx="2289" cy="1164" r="2.65" fill="#000"/>
<circle cx="2289" cy="1178" r="2.65" fill="#000"/>
<circle cx="2289" cy="1192" r="2.65" fill="#000"/>
<circle cx="2596.5" cy="1164" r="2.65" fill="#000"/>
<circle cx="2596.5" cy="1178" r="2.65" fill="#000"/>
<circle cx="2596.5" cy="1192" r="2.65" fill="#000"/>
<rect x="1576.2" y="1224.3" width="1302.4" height="159.9" fill="#dee5f3" stroke="#172b55" stroke-width="2.4"/>
<text x="2227.4" y="1319.5" text-anchor="middle" class="up" font-size="43">K/V Cache</text>
<rect x="2898.3" y="1224.4" width="104.4" height="59.4" fill="#fff2cc" stroke="#172b55" stroke-width="2.6"/>
<text x="2954.5" y="1269.6" text-anchor="middle" font-size="47.5" class="mt"><tspan class="it">y</tspan><tspan dx="-0.5" dy="7.5" font-size="31"><tspan class="it" font-size="35.6">v</tspan><tspan class="up" dx="2.5">&#8722;</tspan><tspan class="up" dx="2.5">2</tspan></tspan></text>
<rect x="3021.7" y="1224.4" width="104.4" height="59.4" fill="#fbe5d6" stroke="#172b55" stroke-width="2.6"/>
<text x="3077.9" y="1269.6" text-anchor="middle" font-size="47.5" class="mt"><tspan class="it">y</tspan><tspan dx="-0.5" dy="7.5" font-size="31"><tspan class="it" font-size="35.6">v</tspan><tspan class="up" dx="2.5">&#8722;</tspan><tspan class="up" dx="2.5">2</tspan></tspan></text>
<rect x="3145.5" y="1224.4" width="104.4" height="59.4" fill="#fbe5d6" stroke="#172b55" stroke-width="2.6"/>
<text x="3197.7" y="1269.6" text-anchor="middle" font-size="47.5" class="it" textLength="39.4" lengthAdjust="spacingAndGlyphs">m</text>
<rect x="3269.5" y="1224.4" width="104.4" height="59.4" fill="#fbe5d6" stroke="#172b55" stroke-width="2.6"/>
<text x="3321.7" y="1269.6" text-anchor="middle" font-size="47.5" class="it" textLength="39.4" lengthAdjust="spacingAndGlyphs">m</text>
<rect x="3393.5" y="1224.4" width="104.4" height="59.4" fill="#fbe5d6" stroke="#172b55" stroke-width="2.6"/>
<text x="3445.7" y="1269.6" text-anchor="middle" font-size="47.5" class="it" textLength="39.4" lengthAdjust="spacingAndGlyphs">m</text>
<rect x="3021.7" y="1325.8" width="104.4" height="59.4" fill="#fff2cc" stroke="#172b55" stroke-width="2.6"/>
<text x="3077.9" y="1371.0" text-anchor="middle" font-size="47.5" class="mt"><tspan class="it">y</tspan><tspan dx="-0.5" dy="7.5" font-size="31"><tspan class="it" font-size="35.6">v</tspan><tspan class="up" dx="2.5">&#8722;</tspan><tspan class="up" dx="2.5">1</tspan></tspan></text>
<rect x="3145.5" y="1325.8" width="104.4" height="59.4" fill="#fff2cc" stroke="#172b55" stroke-width="2.6"/>
<text x="3197.7" y="1371.0" text-anchor="middle" font-size="47.5" class="mt"><tspan class="it">y</tspan><tspan dx="-0.5" dy="7.5" font-size="31"><tspan class="it" font-size="35.6">v</tspan></tspan></text>
<rect x="3269.5" y="1325.8" width="104.4" height="59.4" fill="#fff2cc" stroke="#172b55" stroke-width="2.6"/>
<text x="3321.7" y="1372.0" text-anchor="middle" class="up mt" font-size="46">|<tspan dx="1.5">E</tspan><tspan dx="1.5">|</tspan></text>
<rect x="3393.7" y="1326.0" width="104.0" height="59.0" fill="#fff9eb" stroke="#a6a6a6" stroke-width="3" stroke-dasharray="9.6,8.9"/>
<line x1="3073.9" y1="1285.1" x2="3073.9" y2="1311.5" stroke="#000" stroke-width="3"/>
<path d="M3065.9,1309.5 L3081.9,1309.5 L3073.9,1324.5 Z" fill="#000"/>
<line x1="3197.7" y1="1285.1" x2="3197.7" y2="1311.5" stroke="#000" stroke-width="3"/>
<path d="M3189.7,1309.5 L3205.7,1309.5 L3197.7,1324.5 Z" fill="#000"/>
<line x1="3321.7" y1="1285.1" x2="3321.7" y2="1311.5" stroke="#000" stroke-width="3"/>
<path d="M3313.7,1309.5 L3329.7,1309.5 L3321.7,1324.5 Z" fill="#000"/>
<text x="2573.6" y="1670.0" text-anchor="middle" class="up" font-size="49.5">(b)</text>
</svg>
</body></html>
